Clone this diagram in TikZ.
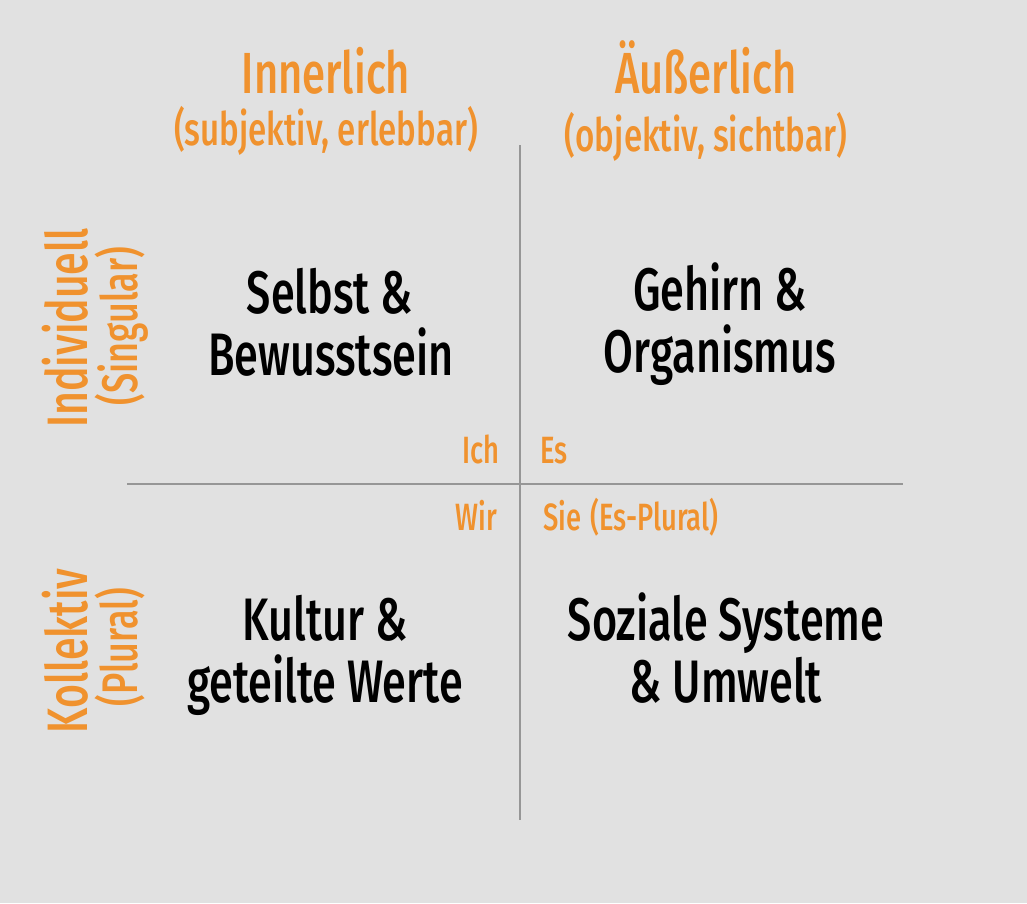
\documentclass[tikz,border=0pt]{standalone}
\usepackage{fontspec}
\setmainfont{Fira Sans}[FakeStretch=0.72,BoldFont={Fira Sans Medium}]
\definecolor{bg}{RGB}{225,225,225}
\definecolor{quadorange}{RGB}{240,146,46}
\definecolor{axisgray}{RGB}{150,150,150}

\begin{document}
\begin{tikzpicture}[x=1pt,y=-1pt,
  every node/.style={inner sep=0pt},
  head/.style={text=quadorange,anchor=base,font=\fontsize{58}{58}\selectfont\bfseries},
  sub/.style={text=quadorange,anchor=base,font=\fontsize{46}{46}\selectfont\bfseries},
  quad/.style={text=black,anchor=base,font=\fontsize{60}{60}\selectfont\bfseries},
  tag/.style={text=quadorange,anchor=base,font=\fontsize{38}{38}\selectfont\bfseries},
  side/.style={text=quadorange,anchor=base,rotate=90,font=\fontsize{57}{57}\selectfont\bfseries},
  sidesub/.style={text=quadorange,anchor=base,rotate=90,font=\fontsize{50}{50}\selectfont\bfseries}]
\fill [bg] (0,0) rectangle (1027,903);
\useasboundingbox (0,0) rectangle (1027,903);
% axes
\coordinate (top) at (520,145);
\coordinate (bottom) at (520,820);
\coordinate (left) at (127,484);
\coordinate (right) at (903,484);
\draw [axisgray,line width=2pt] (top) -- (bottom);
\draw [axisgray,line width=2pt] (left) -- (right);
% column heads
\node [head] (inner) at (326,93) {Innerlich};
\node [sub] (innersub) at (326,145) {(subjektiv, erlebbar)};
\node [head] (outer) at (706,93) {Äußerlich};
\node [sub] (outersub) at (706,151) {(objektiv, sichtbar)};
% row heads
\node [side] (indiv) at (87,328) {Individuell};
\node [sidesub] (indivsub) at (137,326) {(Singular)};
\node [side] (koll) at (87,651) {Kollektiv};
\node [sidesub] (kollsub) at (137,647) {(Plural)};
% quadrants
\node [quad] (ul1) at (330,313) {Selbst \&};
\node [quad] (ul2) at (331,375) {Bewusstsein};
\node [quad] (ur1) at (720,310) {Gehirn \&};
\node [quad] (ur2) at (720,372) {Organismus};
\node [quad] (ll1) at (325,640) {Kultur \&};
\node [quad] (ll2) at (325,702) {geteilte Werte};
\node [quad] (lr1) at (726,640) {Soziale Systeme};
\node [quad] (lr2) at (726,702) {\& Umwelt};
% pronouns
\node [tag,anchor=base east] (ich) at (500,463) {Ich};
\node [tag,anchor=base west] (es) at (540,463) {Es};
\node [tag,anchor=base east] (wir) at (497,530) {Wir};
\node [tag,anchor=base west] (sie) at (543,530) {Sie\hspace{9pt}(Es-Plural)};
\end{tikzpicture}
\end{document}
